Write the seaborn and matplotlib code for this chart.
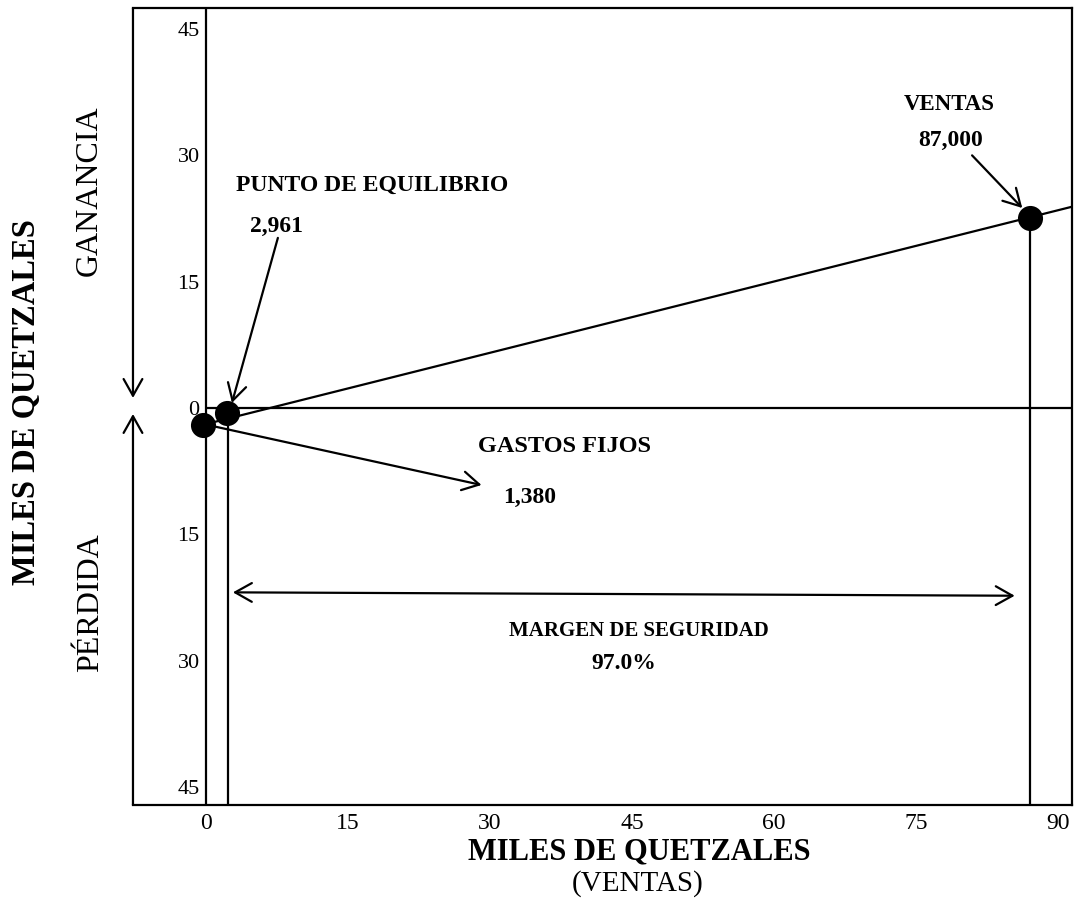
import matplotlib
matplotlib.use("Agg")
import matplotlib.pyplot as plt
import seaborn as sns
import pandas as pd

# ---- data (thousands of quetzales) ----
x_ticks = [0, 15, 30, 45, 60, 75, 90]
x_tick_labels = ["0", "15", "30", "45", "60", "75", "90"]
y_ticks = [45, 30, 15, 0, -15, -30, -45]
y_tick_labels = ["45", "30", "15", "0", "15", "30", "45"]

line_x = [-0.3, 91.45]
line_y = [-2.0, 23.9]

point_names = ["Gastos fijos", "Punto de equilibrio", "Ventas"]
point_x = [-0.3, 2.2, 87.0]
point_y = [-2.0, -0.6, 22.6]

breakeven_x = 2.3
ventas_x = 87.0

label_punto = "PUNTO DE EQUILIBRIO"
label_punto_val = "2,961"
label_ventas = "VENTAS"
label_ventas_val = "87,000"
label_gastos = "GASTOS FIJOS"
label_gastos_val = "1,380"
label_margen = "MARGEN DE SEGURIDAD"
label_margen_val = "97.0%"

sns.set_theme(style="white")
plt.rcParams["font.family"] = ["Liberation Serif", "DejaVu Serif"]

fig = plt.figure(figsize=(10.75, 9.11), dpi=100)
ax = fig.add_axes([0.1237, 0.1164, 0.9972 - 0.1237, 0.9912 - 0.1164])

XMIN, XMAX = -7.7, 91.45
YMIN, YMAX = -47.15, 47.5
ax.set_xlim(XMIN, XMAX)
ax.set_ylim(YMIN, YMAX)

lw = 1.6
# main profit line
df_line = pd.DataFrame({"x": line_x, "y": line_y})
sns.lineplot(data=df_line, x="x", y="y", ax=ax, color="black", linewidth=lw, legend=False)

# y axis (inner) and zero line
ax.axvline(0, color="black", linewidth=lw)
ax.hlines(0, 0, XMAX, color="black", linewidth=lw)
# vertical drop lines
ax.vlines(breakeven_x, YMIN, point_y[1], color="black", linewidth=lw)
ax.vlines(ventas_x, YMIN, point_y[2], color="black", linewidth=lw)

# dots
df_pts = pd.DataFrame({"name": point_names, "x": point_x, "y": point_y})
sns.scatterplot(data=df_pts, x="x", y="y", ax=ax, color="black", s=280,
                edgecolor="black", zorder=5, legend=False)

# spines
for s in ["top", "right", "bottom"]:
    ax.spines[s].set_visible(True)
    ax.spines[s].set_color("black")
    ax.spines[s].set_linewidth(lw)
ax.spines["left"].set_visible(False)

# ticks
ax.set_xticks(x_ticks)
ax.set_xticklabels(x_tick_labels)
ax.set_yticks(y_ticks)
ax.set_yticklabels(y_tick_labels)
ax.tick_params(axis="x", length=0, pad=6, labelsize=17, colors="black")
ax.tick_params(axis="y", length=0, pad=-48, labelsize=16, colors="black")
ax.set_xlabel("")
ax.set_ylabel("")
ax.grid(False)

arrow_kw = dict(arrowstyle="->,head_length=0.8,head_width=0.45", color="black",
                lw=lw, shrinkA=0, shrinkB=0, mutation_scale=15)

# left frame arrows
ax.annotate("", xy=(0, 0.5107), xytext=(0, 1.0), xycoords="axes fraction",
            textcoords="axes fraction", arrowprops=arrow_kw, annotation_clip=False)
ax.annotate("", xy=(0, 0.4906), xytext=(0, 0.0), xycoords="axes fraction",
            textcoords="axes fraction", arrowprops=arrow_kw, annotation_clip=False)

# annotation arrows
ax.annotate("", xy=(2.75, 0.6), xytext=(7.6, 20.2), arrowprops=arrow_kw)
ax.annotate("", xy=(86.2, 23.75), xytext=(80.9, 30.0), arrowprops=arrow_kw)
ax.annotate("", xy=(29.1, -9.15), xytext=(0.1, -2.0), arrowprops=arrow_kw)
ax.annotate("", xy=(85.4, -22.3), xytext=(2.85, -21.9),
            arrowprops=dict(arrow_kw, arrowstyle="<->,head_length=0.8,head_width=0.45"))

bold = dict(fontweight="bold", color="black")
ax.text(3.17, 26.4, label_punto, ha="left", va="center", fontsize=17, **bold)
ax.text(7.5, 21.6, label_punto_val, ha="center", va="center", fontsize=17, **bold)
ax.text(78.5, 36.0, label_ventas, ha="center", va="center", fontsize=16.5, **bold)
ax.text(78.6, 31.8, label_ventas_val, ha="center", va="center", fontsize=17, **bold)
ax.text(37.9, -4.6, label_gastos, ha="center", va="center", fontsize=17.5, **bold)
ax.text(34.2, -10.6, label_gastos_val, ha="center", va="center", fontsize=17, **bold)
ax.text(45.7, -26.5, label_margen, ha="center", va="center", fontsize=15, **bold)
ax.text(44.1, -30.4, label_margen_val, ha="center", va="center", fontsize=17, **bold)

# outer labels
fig.text(0.025, 0.559, "MILES DE QUETZALES", rotation=90, ha="center", va="center",
         fontsize=23.5, fontweight="bold", color="black")
fig.text(0.083, 0.791, "GANANCIA", rotation=90, ha="center", va="center",
         fontsize=23, color="black")
fig.text(0.084, 0.338, "PÉRDIDA", rotation=90, ha="center", va="center",
         fontsize=23, color="black")
fig.text(0.595, 0.0648, "MILES DE QUETZALES", ha="center", va="center",
         fontsize=22, fontweight="bold", color="black")
fig.text(0.593, 0.0307, "(VENTAS)", ha="center", va="center",
         fontsize=21, color="black")

fig.savefig("out.png", dpi=100, facecolor="white")
